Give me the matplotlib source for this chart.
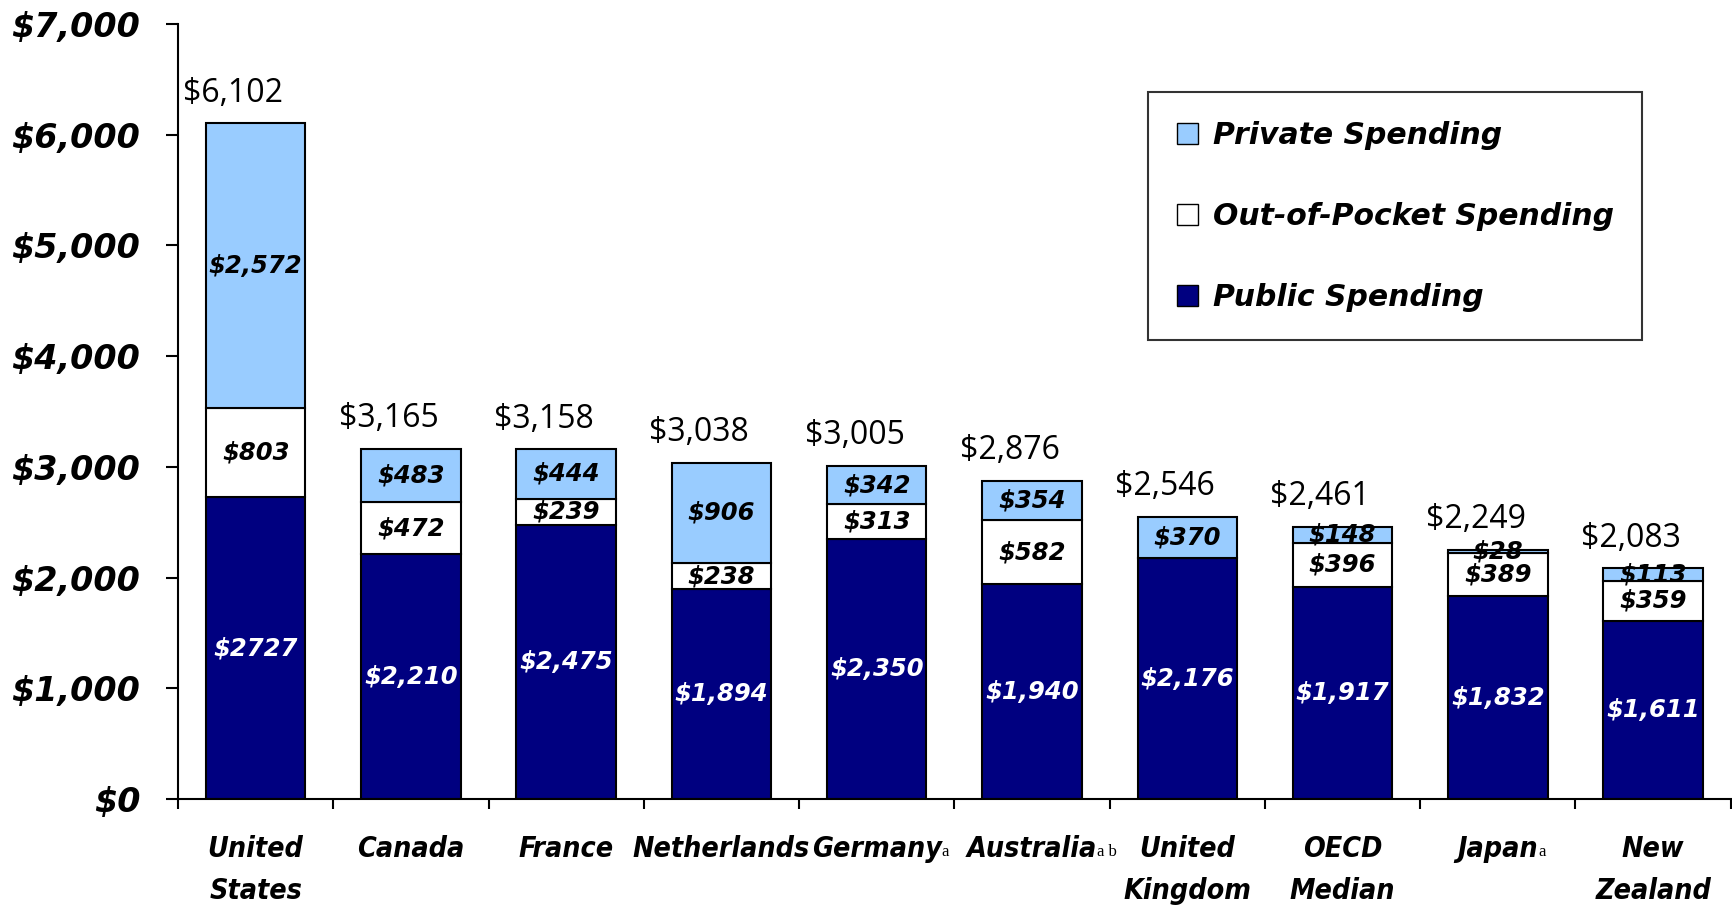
import numpy as np
import matplotlib.pyplot as plt
from matplotlib.patches import Patch
from matplotlib import font_manager as fm

# Datos
countries = ["United\nStates", "Canada", "France", "Netherlands", "Germany",
             "Australia", "United\nKingdom", "OECD\nMedian", "Japan", "New\nZealand"]
footnotes = ["", "", "", "", "a", "a b", "", "", "a", ""]
public = [2727, 2210, 2475, 1894, 2350, 1940, 2176, 1917, 1832, 1611]
out_of_pocket = [803, 472, 239, 238, 313, 582, 0, 396, 389, 359]
private = [2572, 483, 444, 906, 342, 354, 370, 148, 28, 113]
public_labels = ["$2727", "$2,210", "$2,475", "$1,894", "$2,350", "$1,940",
                 "$2,176", "$1,917", "$1,832", "$1,611"]
yticks = [0, 1000, 2000, 3000, 4000, 5000, 6000, 7000]

navy = "#000080"
light_blue = "#99CCFF"
heavy = dict(family="DejaVu Sans", weight="bold", style="italic")


# fuente estrecha, negrita y cursiva para los países
def is_bold(f):
    wt = f.weight
    if isinstance(wt, str):
        return wt in ("bold", "heavy", "black", "extra bold", "semibold", "demibold")
    return wt >= 600


cands = [f for f in fm.fontManager.ttflist
         if is_bold(f) and f.style in ("italic", "oblique")
         and (f.stretch not in ("normal", 500) or "Narrow" in f.name or "Condensed" in f.name)]
cands.sort(key=lambda f: (f.name != "DejaVu Sans", f.name))
if cands:
    narrow_prop = fm.FontProperties(fname=cands[0].fname, size=20.5)
else:
    narrow_prop = fm.FontProperties(family="DejaVu Sans", weight="bold", style="italic", size=18)

fig = plt.figure(figsize=(17.33, 9.07), dpi=100)
ax = fig.add_axes([0.1027, 0.119, 0.896, 0.8545])

x = np.arange(len(countries))
w = 0.64
public = np.array(public)
oop = np.array(out_of_pocket)
priv = np.array(private)
total = public + oop + priv

ax.bar(x, public, w, color=navy, edgecolor="black", linewidth=1.5)
ax.bar(x, oop, w, bottom=public, color="white", edgecolor="black", linewidth=1.5)
ax.bar(x, priv, w, bottom=public + oop, color=light_blue, edgecolor="black", linewidth=1.5)

# Etiquetas dentro de los segmentos
for i in range(len(x)):
    ax.text(x[i], public[i] / 2, public_labels[i], ha="center", va="center",
            color="white", fontsize=17.5, **heavy)
    if oop[i] > 0:
        ax.text(x[i], public[i] + oop[i] / 2, f"${oop[i]:,}", ha="center", va="center",
                color="black", fontsize=17.5, **heavy)
    if priv[i] > 0:
        ax.text(x[i], public[i] + oop[i] + priv[i] / 2, f"${priv[i]:,}", ha="center",
                va="center", color="black", fontsize=17.5, **heavy)
    ax.annotate(f"${total[i]:,}", (x[i], total[i]), xytext=(-16, 10),
                textcoords="offset points", ha="center", va="bottom",
                fontsize=23, family="Open Sans")

# Ejes
ax.set_xlim(-0.5, 9.5)
ax.set_ylim(0, 7000)
ax.set_yticks(yticks)
ax.set_yticklabels([f"${v:,}" for v in yticks], fontsize=24, **heavy)
ax.tick_params(axis="y", length=9, width=1.5, pad=18)
ax.set_xticks(np.arange(-0.5, 10, 1))
ax.set_xticklabels([])
ax.tick_params(axis="x", length=7, width=1.5)
for s in ["top", "right"]:
    ax.spines[s].set_visible(False)
for s in ["left", "bottom"]:
    ax.spines[s].set_linewidth(1.5)

# Etiquetas de países
trans = ax.get_xaxis_transform()
for i, name in enumerate(countries):
    t = ax.text(x[i], -0.047, name, transform=trans, ha="center", va="top",
                linespacing=1.62, fontproperties=narrow_prop)
    if footnotes[i]:
        ax.annotate(footnotes[i], xy=(1, 0.12), xycoords=t, ha="left", va="bottom",
                    fontsize=12, family="Liberation Serif")

handles = [Patch(facecolor=light_blue, edgecolor="black"),
           Patch(facecolor="white", edgecolor="black"),
           Patch(facecolor=navy, edgecolor="black")]
leg = ax.legend(handles, ["Private Spending", "Out-of-Pocket Spending", "Public Spending"],
                loc="upper left", bbox_to_anchor=(0.625, 0.912), frameon=True,
                fancybox=False, edgecolor="black", handlelength=0.7, handleheight=0.7,
                labelspacing=1.75, borderpad=0.95, handletextpad=0.5, borderaxespad=0,
                prop=dict(family="DejaVu Sans", weight="bold", style="italic", size=21.5))
leg.get_frame().set_linewidth(1.5)

fig.savefig("out.png", dpi=100)
